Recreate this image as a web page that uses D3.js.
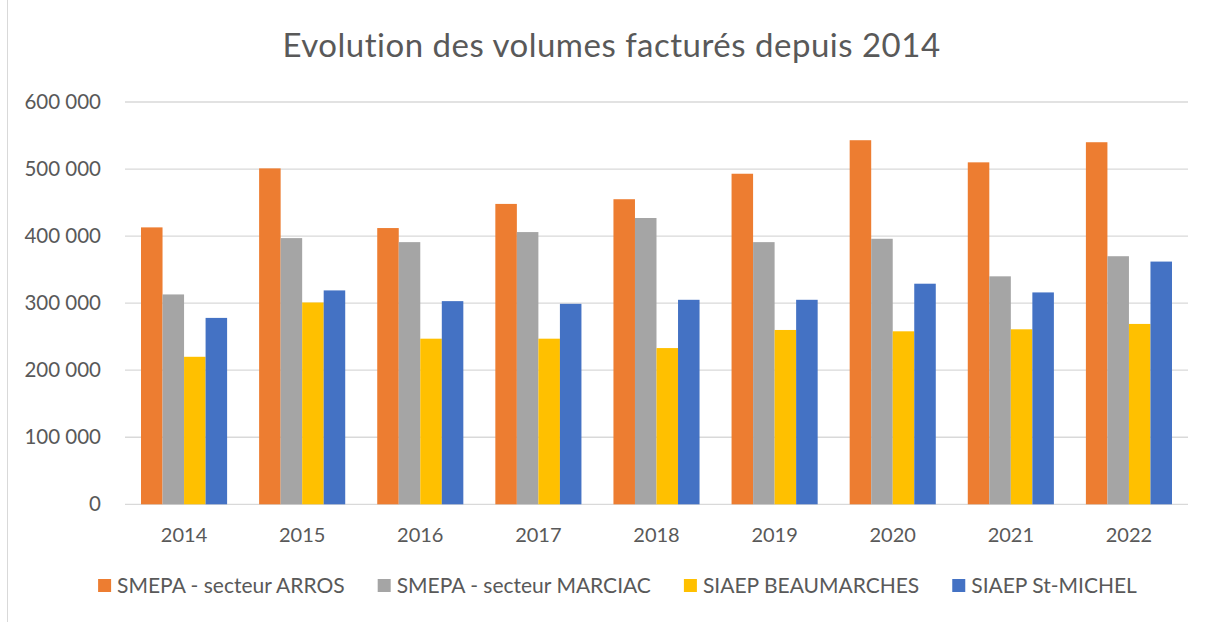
<!DOCTYPE html>
<html>
<head>
<meta charset="utf-8">
<script src="https://cdn.jsdelivr.net/npm/d3@7"></script>
<style>
    body { margin: 0; background: #fff; }
    svg { display: block; font-family: Lato, "Open Sans", sans-serif; }
</style>
</head>
<body>
<svg width="1215" height="622"></svg>
<script>
// data
const years = ["2014", "2015", "2016", "2017", "2018", "2019", "2020", "2021", "2022"];
const seriesNames = ["SMEPA - secteur ARROS", "SMEPA - secteur MARCIAC", "SIAEP BEAUMARCHES", "SIAEP St-MICHEL"];
const arros = [413000, 501000, 412000, 448000, 455000, 493000, 543000, 510000, 540000];
const marciac = [313000, 397000, 391000, 406000, 427000, 391000, 396000, 340000, 370000];
const beaumarches = [220000, 301000, 247000, 247000, 233000, 260000, 258000, 261000, 269000];
const stMichel = [278000, 319000, 303000, 299000, 305000, 305000, 329000, 316000, 362000];
const yTicks = [0, 100000, 200000, 300000, 400000, 500000, 600000];
const colors = ["#ED7D31", "#A5A5A5", "#FFC000", "#4472C4"];

const allSeries = [arros, marciac, beaumarches, stMichel];
const textColor = "#595959";

const svg = d3.select("svg");

// chart area border (left edge visible)
svg.append("line")
    .attr("x1", 7.5).attr("x2", 7.5)
    .attr("y1", 0).attr("y2", 622)
    .attr("stroke", "#D9D9D9").attr("stroke-width", 1);

const plot = { left: 125, right: 1188, top: 102, bottom: 504.3 };

const xScale = d3.scaleBand()
    .domain(years)
    .range([plot.left, plot.right])
    .paddingInner(0.271)
    .paddingOuter(0.1355);

const xInner = d3.scaleBand()
    .domain(d3.range(seriesNames.length))
    .range([0, xScale.bandwidth()]);

const yScale = d3.scaleLinear()
    .domain([0, 600000])
    .range([plot.bottom, plot.top]);

const fr = d3.formatLocale({ decimal: ",", thousands: " ", grouping: [3], currency: ["", " €"] });
const fmt = fr.format(",.0f");

// gridlines
svg.append("g").selectAll("line")
    .data(yTicks)
    .enter().append("line")
    .attr("x1", plot.left)
    .attr("x2", plot.right)
    .attr("y1", d => yScale(d))
    .attr("y2", d => yScale(d))
    .attr("stroke", "#D9D9D9")
    .attr("stroke-width", 1.3);

// y labels
svg.append("g").selectAll("text")
    .data(yTicks)
    .enter().append("text")
    .attr("x", 101)
    .attr("y", d => yScale(d) + 7)
    .attr("text-anchor", "end")
    .attr("font-size", 20.5)
    .attr("fill", textColor)
    .text(d => fmt(d));

// bars
const groups = svg.append("g").selectAll("g")
    .data(years)
    .enter().append("g")
    .attr("transform", d => `translate(${xScale(d)},0)`);

groups.selectAll("rect")
    .data((d, i) => allSeries.map((s, k) => ({ k: k, v: s[i] })))
    .enter().append("rect")
    .attr("x", d => xInner(d.k))
    .attr("width", xInner.bandwidth())
    .attr("y", d => yScale(d.v))
    .attr("height", d => yScale(0) - yScale(d.v))
    .attr("fill", d => colors[d.k]);

// x labels
svg.append("g").selectAll("text")
    .data(years)
    .enter().append("text")
    .attr("x", d => xScale(d) + xScale.bandwidth() / 2)
    .attr("y", 541.7)
    .attr("text-anchor", "middle")
    .attr("font-size", 20)
    .attr("fill", textColor)
    .text(d => d);

// title
svg.append("text")
    .attr("x", 611.5)
    .attr("y", 57)
    .attr("text-anchor", "middle")
    .attr("font-size", 33)
    .attr("letter-spacing", 0.5)
    .attr("fill", textColor)
    .text("Evolution des volumes facturés depuis 2014");

// legend
const legend = svg.append("g");
let lx = 0;
seriesNames.forEach((name, k) => {
    const item = legend.append("g").attr("transform", `translate(${lx},0)`);
    item.append("rect")
        .attr("x", 0).attr("y", 579)
        .attr("width", 13).attr("height", 13)
        .attr("fill", colors[k]);
    const t = item.append("text")
        .attr("x", 19).attr("y", 593.3)
        .attr("font-size", 21)
        .attr("fill", textColor)
        .text(name);
    lx += 19 + t.node().getComputedTextLength() + 33;
});
const legendWidth = lx - 33;
legend.attr("transform", `translate(${617.5 - legendWidth / 2},0)`);
</script>
</body>
</html>
